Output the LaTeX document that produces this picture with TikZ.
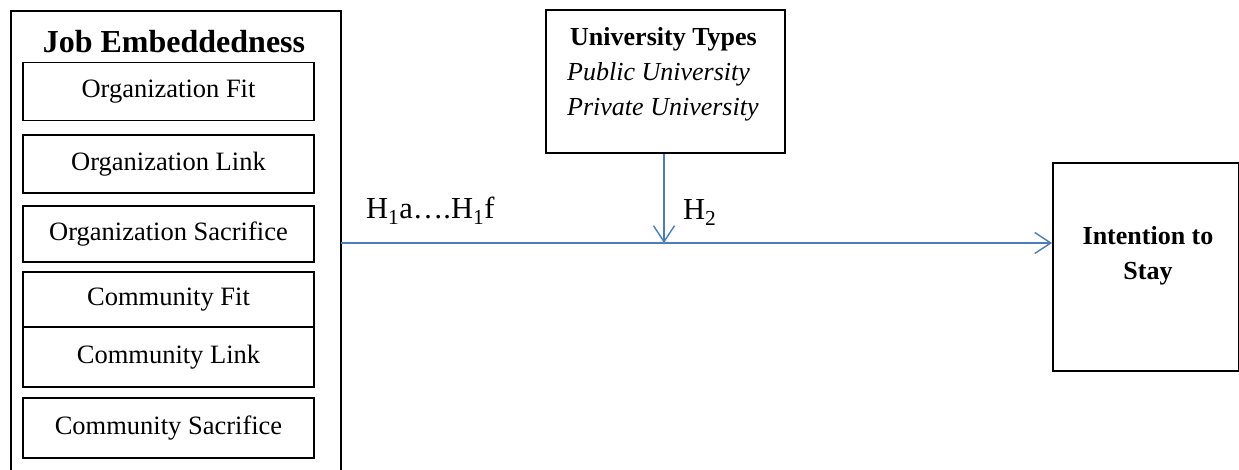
\documentclass[tikz,border=0pt]{standalone}
\usepackage{fontspec}
\setmainfont{Liberation Serif}
\usetikzlibrary{arrows.meta}
\definecolor{lineblue}{HTML}{4A7EBB}
\tikzset{
  box/.style={draw=black, line width=1.8pt, inner sep=0pt},
  subbox/.style={box, minimum width=291pt, font=\fontsize{26.5}{30}\selectfont},
  conn/.style={draw=lineblue, line width=1.6pt, -{Straight Barb[length=16pt,width=21pt,line width=1.4pt]}},
  lbl/.style={font=\fontsize{30.5}{34}\selectfont, inner sep=0pt, anchor=base west}
}
\begin{document}
\begin{tikzpicture}[x=1pt,y=-1pt]
\useasboundingbox (0,0) rectangle (1239,470);
% outer box
\node[box, minimum width=330pt, minimum height=480pt, anchor=north west] (je) at (10,10) {};
\node[font=\fontsize{32}{36}\bfseries\selectfont, inner sep=0pt] (jet) at (174,42) {Job Embeddedness};
% inner boxes
\node[subbox, minimum height=58pt] (of) at (168.5,91.5) {Organization Fit};
\node[subbox, minimum height=58pt] (ol) at (168.5,164) {Organization Link};
\node[subbox, minimum height=56pt] (os) at (168.5,234) {Organization Sacrifice};
\node[subbox, minimum height=55pt] (cf) at (168.5,299.5) {Community Fit};
\node[subbox, minimum height=60pt] (cl) at (168.5,357) {Community Link};
\node[subbox, minimum height=60pt] (cs) at (168.5,428) {Community Sacrifice};
% university types
\node[box, minimum width=239pt, minimum height=143pt, anchor=north west] (ut) at (545,9) {};
\node[font=\fontsize{26}{30}\bfseries\selectfont, inner sep=0pt, anchor=base west] (utt) at (570,46) {University Types};
\node[font=\fontsize{26}{30}\itshape\selectfont, inner sep=0pt, anchor=base west] (pu) at (567,81) {Public University};
\node[font=\fontsize{26}{30}\itshape\selectfont, inner sep=0pt, anchor=base west] (pr) at (567,116) {Private University};
% intention to stay
\node[box, minimum width=186pt, minimum height=208pt, anchor=north west] (its) at (1052,162) {};
\node[font=\fontsize{26}{35}\bfseries\selectfont, align=center, inner sep=0pt] (itst) at (1148,256) {Intention to\\Stay};
% connectors
\coordinate (s) at (341,243);
\coordinate (ax) at (664,0);
\draw[conn] (s) -- (its.west |- s);
\draw[conn] (ut.south -| ax) -- (ax |- s);
% labels
\node[lbl] (h1) at (366,219) {H\textsubscript{1}a….H\textsubscript{1}f};
\node[lbl] (h2) at (683,220) {H\textsubscript{2}};
\end{tikzpicture}
\end{document}
